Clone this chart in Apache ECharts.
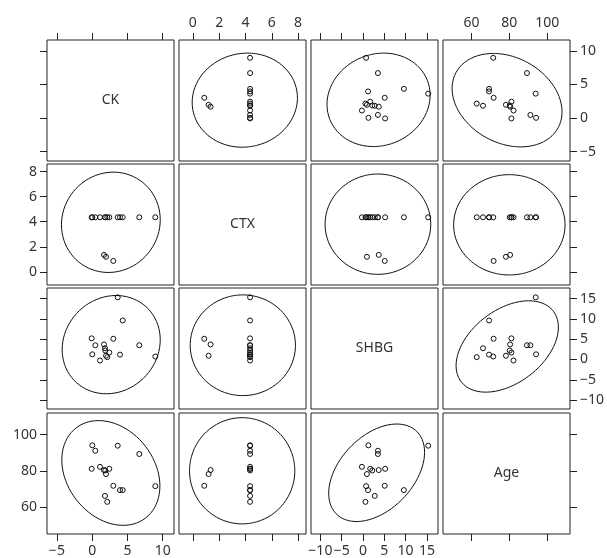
<!DOCTYPE html>
<html>
<head>
<meta charset="utf-8">
<script src="https://cdn.jsdelivr.net/npm/echarts@6/dist/echarts.min.js"></script>
<style>
  html, body { margin: 0; padding: 0; background: #fff; }
  #chart { width: 607px; height: 558px; }
</style>
</head>
<body>
<div id="chart"></div>
<script>
// Variables of the scatterplot matrix
const varNames = ['CK', 'CTX', 'SHBG', 'Age'];

// One value per subject
const ckValues   = [0.02, 0.45, 3.62, 6.68, -0.07, 1.11, 1.68, 1.86, 2.43, 1.96, 3.0, 3.95, 4.33, 8.95, 1.82, 2.14];
const ctxValues  = [4.35, 4.35, 4.35, 4.35, 4.35, 4.35, 1.35, 4.35, 4.35, 1.2, 0.87, 4.35, 4.35, 4.35, 4.35, 4.35];
const shbgValues = [1.27, 3.5, 15.3, 3.5, 5.2, -0.26, 3.7, 2.19, 1.7, 0.92, 5.1, 1.19, 9.6, 0.73, 2.76, 0.57];
const ageValues  = [94.1, 91.1, 93.9, 89.3, 81.1, 82.2, 80.4, 80.2, 81.1, 78.2, 71.7, 69.3, 69.3, 71.5, 66.1, 62.8];

// Axis limits and tick marks per variable
const axisLimits = [[-6.4, 11.6], [-1.05, 8.6], [-12.2, 17.6], [45, 112]];
const ckTicks   = [-5, 0, 5, 10];
const ctxTicks  = [0, 2, 4, 6, 8];
const shbgTicks = [-10, -5, 0, 5, 10, 15];
const ageTicks  = [60, 80, 100];

// Ellipse per pair of variables: centre, half-extent and correlation
const ellipseVarA   = ['CK', 'CK', 'CK', 'CTX', 'CTX', 'SHBG'];
const ellipseVarB   = ['CTX', 'SHBG', 'Age', 'SHBG', 'Age', 'Age'];
const ellipseCentA  = [2.65, 2.7, 2.65, 3.8, 3.75, 3.2];
const ellipseHalfA  = [7.0, 6.95, 6.95, 4.0, 4.0, 11.25];
const ellipseCentB  = [3.95, 3.65, 78.8, 3.5, 80.0, 78.9];
const ellipseHalfB  = [4.0, 12.1, 29.0, 12.4, 29.4, 27.0];
const ellipseCorr   = [0.05, 0.1, -0.25, 0.0, 0.0, 0.42];

const columns = [ckValues, ctxValues, shbgValues, ageValues];
const tickSets = [ckTicks, ctxTicks, shbgTicks, ageTicks];

// Panel geometry
const colLeft = [47, 179, 311, 443];
const rowTop = [40, 164, 288, 413];
const panelW = 127, panelH = 121;
const tickLen = 7;

const FONT = 'Noto Sans';
const fmt = v => (v < 0 ? '\u2212' + Math.abs(v) : String(v));

function ellipsePoints(k, swap) {
  const pts = [];
  const r = ellipseCorr[k];
  const s = Math.sqrt(1 - r * r);
  const n = 160;
  for (let i = 0; i <= n; i++) {
    const t = (i / n) * Math.PI * 2;
    const a = ellipseCentA[k] + ellipseHalfA[k] * Math.cos(t);
    const b = ellipseCentB[k] + ellipseHalfB[k] * (r * Math.cos(t) + s * Math.sin(t));
    pts.push(swap ? [b, a] : [a, b]);
  }
  return pts;
}

function findPair(xName, yName) {
  for (let k = 0; k < ellipseVarA.length; k++) {
    if (ellipseVarA[k] === xName && ellipseVarB[k] === yName) return { k, swap: false };
    if (ellipseVarB[k] === xName && ellipseVarA[k] === yName) return { k, swap: true };
  }
  return null;
}

function axisBase(varIdx, gridIndex, position, showTicks, showLabels) {
  const ticks = tickSets[varIdx];
  return {
    type: 'value',
    gridIndex,
    position,
    min: axisLimits[varIdx][0],
    max: axisLimits[varIdx][1],
    axisLine: { show: false, onZero: false },
    splitLine: { show: false },
    axisTick: {
      show: showTicks,
      inside: false,
      length: tickLen,
      customValues: ticks,
      lineStyle: { color: '#222', width: 1 }
    },
    axisLabel: {
      show: showLabels,
      customValues: ticks,
      formatter: fmt,
      margin: tickLen + 3,
      fontFamily: FONT,
      fontSize: 14,
      color: '#333',
      hideOverlap: false
    }
  };
}

const grids = [], xAxes = [], yAxes = [], series = [], graphics = [];

for (let i = 0; i < 4; i++) {
  for (let j = 0; j < 4; j++) {
    const g = i * 4 + j;
    grids.push({
      left: colLeft[j], top: rowTop[i], width: panelW, height: panelH,
      show: true, borderColor: '#222', borderWidth: 1, backgroundColor: '#fff'
    });
    // bottom x axis (used by series)
    const bottomTicks = i === 3;
    const bottomLabels = i === 3 && (j === 0 || j === 2);
    const xi = xAxes.length;
    xAxes.push(axisBase(j, g, 'bottom', bottomTicks, bottomLabels));
    if (i === 0) {
      xAxes.push(axisBase(j, g, 'top', true, j === 1 || j === 3));
    }
    // left y axis (used by series)
    const leftTicks = j === 0;
    const leftLabels = j === 0 && (i === 1 || i === 3);
    const yi = yAxes.length;
    yAxes.push(axisBase(i, g, 'left', leftTicks, leftLabels));
    if (j === 3) {
      yAxes.push(axisBase(i, g, 'right', true, i === 0 || i === 2));
    }

    if (i === j) {
      graphics.push({
        type: 'text',
        x: colLeft[j] + panelW / 2,
        y: rowTop[i] + panelH / 2,
        style: {
          text: varNames[i],
          fontFamily: FONT,
          fontSize: 14,
          fill: '#333',
          align: 'center',
          verticalAlign: 'middle'
        }
      });
      continue;
    }

    const xs = columns[j], ys = columns[i];
    const pts = xs.map((v, n) => [v, ys[n]]);
    series.push({
      type: 'scatter',
      xAxisIndex: xi,
      yAxisIndex: yi,
      data: pts,
      symbol: 'circle',
      symbolSize: 5,
      itemStyle: { color: 'rgba(0,0,0,0)', borderColor: '#111', borderWidth: 1, opacity: 1 },
      emphasis: { disabled: true },
      z: 3
    });
    const pair = findPair(varNames[j], varNames[i]);
    if (pair) {
      series.push({
        type: 'line',
        xAxisIndex: xi,
        yAxisIndex: yi,
        data: ellipsePoints(pair.k, pair.swap),
        showSymbol: false,
        symbol: 'none',
        smooth: false,
        lineStyle: { color: '#111', width: 1 },
        emphasis: { disabled: true },
        z: 2
      });
    }
  }
}

const chart = echarts.init(document.getElementById('chart'), null, { renderer: 'canvas' });
chart.setOption({
  animation: false,
  backgroundColor: '#fff',
  grid: grids,
  xAxis: xAxes,
  yAxis: yAxes,
  series: series,
  graphic: graphics
});
</script>
</body>
</html>
